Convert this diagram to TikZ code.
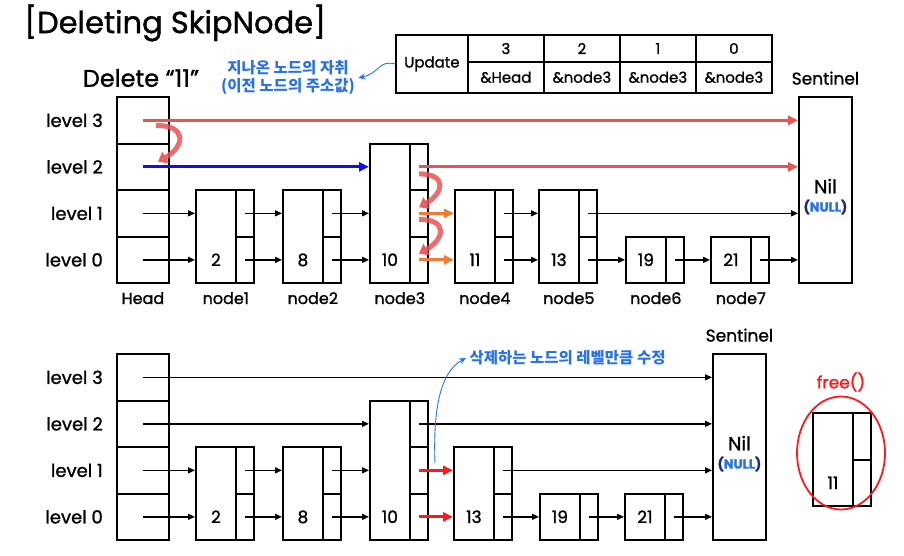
\documentclass[tikz,border=0pt]{standalone}
\usepackage{fontspec}
\setmainfont{Poppins}[FakeBold=1.2]
\newfontfamily\kor{Noto Sans CJK KR}
\usetikzlibrary{arrows.meta, positioning, shapes.geometric}

\definecolor{hopred}{HTML}{E85454}
\definecolor{lvblue}{HTML}{1010E6}
\definecolor{fixorange}{HTML}{ED7D31}
\definecolor{noteblue}{HTML}{2871E6}
\definecolor{delred}{HTML}{FF1A1A}
\definecolor{nullnavy}{HTML}{1A2A80}

\tikzset{
  body/.style={draw, line width=1.8pt, inner sep=0pt, anchor=south west, minimum width=40pt},
  cell/.style={draw, line width=1.8pt, inner sep=0pt, anchor=south west, minimum width=18pt, minimum height=46.5pt},
  hcell/.style={cell, minimum width=52pt},
  sentbox/.style={draw, line width=1.8pt, inner sep=0pt, anchor=south west, minimum width=53pt, minimum height=186pt},
  tcell/.style={draw, line width=1.8pt, inner sep=0pt, anchor=north west, minimum width=76pt, font=\fontsize{15}{17}\selectfont},
  ptr/.style={-{Triangle[length=7pt,width=6pt]}, line width=1.4pt},
  redptr/.style={-{Triangle[length=10pt,width=9pt]}, line width=3pt, hopred},
  blueptr/.style={redptr, lvblue},
  fixptr/.style={-{Triangle[length=10pt,width=9pt]}, line width=3pt, fixorange},
  delptr/.style={-{Triangle[length=10pt,width=9pt]}, line width=3pt, delred},
  hop/.style={-{Triangle[length=9pt,width=13pt]}, line width=5pt, hopred, opacity=.85, out=0, in=30, looseness=2.2},
  notearrow/.style={-{Stealth[length=7pt,width=6pt]}, line width=0.9pt, noteblue},
  note/.style={font=\kor\bfseries\fontsize{15.5}{18}\selectfont, text=noteblue},
  lvl/.style={font=\fontsize{18}{20}\selectfont, inner sep=0pt, anchor=east},
  tag/.style={font=\fontsize{16}{18}\selectfont, inner sep=0pt, anchor=base},
  val/.style={font=\fontsize{17}{20}\selectfont, inner sep=0pt, anchor=base},
  niltxt/.style={font=\fontsize{19}{20}\selectfont, inner sep=0pt},
  nulltxt/.style={font=\bfseries\fontsize{13}{14}\selectfont, text=nullnavy, inner sep=0pt},
}

% name, left x, base y, levels, value
\newcommand{\skipnode}[5]{%
  \node[body, minimum height=#4*46.5pt] (#1) at (#2,#3) {};
  \node[val] (#1v) at ([yshift=18pt]#1.south) {#5};
  \pgfmathtruncatemacro{\toplv}{#4-1}
  \foreach \lv in {0,...,\toplv}
    \node[cell] (#1-\lv) at (#2+40,#3-\lv*46.5) {};
}

\begin{document}
\begin{tikzpicture}[x=1pt, y=-1pt]
\useasboundingbox (0,0) rectangle (904,555);

\node[anchor=west, inner sep=0pt, font=\fontsize{30.5}{32}\selectfont] (title) at (24,23) {[Deleting SkipNode]};
\node[font=\fontsize{24}{26}\selectfont] (delete) at (141,78) {Delete “11”};

% update table
\node[tcell, minimum width=72pt, minimum height=57.4pt] (upd) at (395,34.3) {Update};
\foreach \lv/\addr [count=\i from 0] in {3/\&Head, 2/\&node3, 1/\&node3, 0/\&node3} {
  \node[tcell, minimum height=26.7pt] (lv\i) at (467+76*\i,34.3) {\lv};
  \node[tcell, minimum height=30.7pt] (ad\i) at (467+76*\i,61) {\addr};
}
\node[note, align=center] (trail) at (288,78) {지나온 노드의 자취\\(이전 노드의 주소값)};
\draw[notearrow] (upd.west) .. controls (378,60) and (380,73) .. (trail.east);

% ---- before ----
\foreach \lv in {0,...,3} {
  \node[hcell] (head-\lv) at (116,284-\lv*46.5) {};
  \node[lvl] (lvl-\lv) at ([xshift=-13pt]head-\lv.west) {level \lv};
}
\skipnode{n1}{195}{284}{2}{2}
\skipnode{n2}{282}{284}{2}{8}
\skipnode{n3}{369}{284}{3}{10}
\skipnode{n4}{454}{284}{2}{11}
\skipnode{n5}{538}{284}{2}{13}
\skipnode{n6}{625}{284}{1}{19}
\skipnode{n7}{710}{284}{1}{21}
\node[sentbox] (sent) at (798,284) {};
\node[niltxt] (sentnil) at ([yshift=4pt]sent.center) {Nil};
\node[nulltxt, below=6pt of sentnil] {(\textcolor{noteblue}{NULL})};
\node[font=\fontsize{17}{20}\selectfont, above=8pt of sent] (senttag) {Sentinel};

\node[tag] (headtag) at ([yshift=-20pt]head-0.south) {Head};
\foreach \n in {1,...,7}
  \node[tag] (n\n tag) at ([xshift=-29pt,yshift=-20pt]n\n-0.south east) {node\n};

\draw[ptr] (head-0.center) -- (n1.west |- head-0.center);
\draw[ptr] (head-1.center) -- (n1.west |- head-1.center);
\draw[ptr] (n1-0.center) -- (n2.west |- n1-0.center);
\draw[ptr] (n1-1.center) -- (n2.west |- n1-1.center);
\draw[ptr] (n2-0.center) -- (n3.west |- n2-0.center);
\draw[ptr] (n2-1.center) -- (n3.west |- n2-1.center);
\draw[ptr] (n4-0.center) -- (n5.west |- n4-0.center);
\draw[ptr] (n4-1.center) -- (n5.west |- n4-1.center);
\draw[ptr] (n5-0.center) -- (n6.west |- n5-0.center);
\draw[ptr] (n5-1.center) -- (sent.west |- n5-1.center);
\draw[ptr] (n6-0.center) -- (n7.west |- n6-0.center);
\draw[ptr] (n7-0.center) -- (sent.west |- n7-0.center);
\draw[redptr] (head-3.center) -- (sent.west |- head-3.center);
\draw[redptr] (n3-2.center) -- (sent.west |- n3-2.center);
\draw[blueptr] (head-2.center) -- (n3.west |- head-2.center);
\draw[fixptr] (n3-1.center) -- (n4.west |- n3-1.center);
\draw[fixptr] (n3-0.center) -- (n4.west |- n3-0.center);

% search path
\draw[hop] ([xshift=13pt,yshift=-5pt]head-3.center) to ([xshift=15pt,yshift=5pt]head-2.center);
\draw[hop] ([yshift=-7pt]n3-2.center) to ([yshift=6pt]n3-1.center);
\draw[hop] ([yshift=-6pt]n3-1.center) to ([yshift=6pt]n3-0.center);

% ---- after ----
\foreach \lv in {0,...,3} {
  \node[hcell] (bhead-\lv) at (116,541-\lv*46.5) {};
  \node[lvl] (blvl-\lv) at ([xshift=-13pt]bhead-\lv.west) {level \lv};
}
\skipnode{b1}{195}{541}{2}{2}
\skipnode{b2}{282}{541}{2}{8}
\skipnode{b3}{369}{541}{3}{10}
\skipnode{b4}{453}{541}{2}{13}
\skipnode{b5}{539}{541}{1}{19}
\skipnode{b6}{624}{541}{1}{21}
\node[sentbox] (bsent) at (712,541) {};
\node[niltxt] (bsentnil) at ([yshift=4pt]bsent.center) {Nil};
\node[nulltxt, below=6pt of bsentnil] {(\textcolor{noteblue}{NULL})};
\node[font=\fontsize{17}{20}\selectfont, above=8pt of bsent] (bsenttag) {Sentinel};

\draw[ptr] (bhead-0.center) -- (b1.west |- bhead-0.center);
\draw[ptr] (bhead-1.center) -- (b1.west |- bhead-1.center);
\draw[ptr] (bhead-2.center) -- (b3.west |- bhead-2.center);
\draw[ptr] (bhead-3.center) -- (bsent.west |- bhead-3.center);
\draw[ptr] (b1-0.center) -- (b2.west |- b1-0.center);
\draw[ptr] (b1-1.center) -- (b2.west |- b1-1.center);
\draw[ptr] (b2-0.center) -- (b3.west |- b2-0.center);
\draw[ptr] (b2-1.center) -- (b3.west |- b2-1.center);
\draw[ptr] (b3-2.center) -- (bsent.west |- b3-2.center);
\draw[ptr] (b4-1.center) -- (bsent.west |- b4-1.center);
\draw[ptr] (b4-0.center) -- (b5.west |- b4-0.center);
\draw[ptr] (b5-0.center) -- (b6.west |- b5-0.center);
\draw[ptr] (b6-0.center) -- (bsent.west |- b6-0.center);
\draw[delptr] (b3-1.center) -- (b4.west |- b3-1.center);
\draw[delptr] (b3-0.center) -- (b4.west |- b3-0.center);

\node[note, anchor=west] (fixnote) at (466,358) {삭제하는 노드의 레벨만큼 수정};
\coordinate (hook) at (435,463);
\draw[notearrow] (hook) .. controls (433,410) and (440,372) .. (fixnote.west);

% freed node
\skipnode{fn}{812}{507}{2}{11}
\node[draw=delred, line width=1.8pt, ellipse, minimum width=88pt, minimum height=113pt] (freering) at (841,453) {};
\node[font=\fontsize{17}{20}\selectfont, text=delred] (freetag) at (841,382) {free()};
\end{tikzpicture}
\end{document}
